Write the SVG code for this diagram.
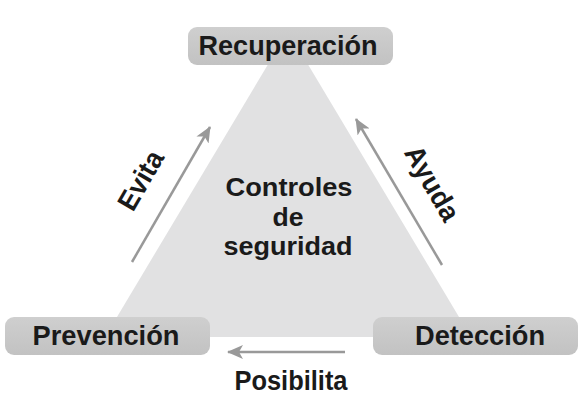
<svg xmlns="http://www.w3.org/2000/svg" width="578" height="420" viewBox="0 0 578 420">
<defs>
<linearGradient id="boxg" x1="0" y1="0" x2="0" y2="1">
<stop offset="0" stop-color="#cfcfcf"/>
<stop offset="1" stop-color="#c2c2c2"/>
</linearGradient>
<marker id="ah" viewBox="0 0 16 14" refX="15" refY="7" markerWidth="16" markerHeight="14" markerUnits="userSpaceOnUse" orient="auto">
<path d="M0,0 L16,7 L0,14 L4,7 Z" fill="#999999"/>
</marker>
<style>
.box{fill:url(#boxg);}
.lbl{font-family:"Liberation Sans",Arial,sans-serif;font-weight:bold;font-size:28px;fill:#1a1a1a;text-anchor:middle;}
.mid{font-size:26px;}
.con{stroke:#999999;stroke-width:2.5;fill:none;marker-end:url(#ah);}
</style>
</defs>
<rect width="578" height="420" fill="#ffffff"/>
<g id="triangle">
<polygon points="288,31 105,337 471,337" fill="#e1e1e2"/>
<text class="lbl mid" x="289" y="196" textLength="127" lengthAdjust="spacingAndGlyphs">Controles</text>
<text class="lbl mid" x="288" y="226" textLength="31" lengthAdjust="spacingAndGlyphs">de</text>
<text class="lbl mid" x="288" y="255" textLength="129" lengthAdjust="spacingAndGlyphs">seguridad</text>
</g>
<g id="connectors">
<line class="con" x1="132" y1="262" x2="210" y2="127"/>
<line class="con" x1="442" y1="265" x2="356" y2="119"/>
<line class="con" x1="345" y1="352" x2="228" y2="352"/>
<text class="lbl" transform="translate(149,185) rotate(-60)" textLength="64" lengthAdjust="spacingAndGlyphs">Evita</text>
<text class="lbl" transform="translate(424,188) rotate(60)" textLength="82" lengthAdjust="spacingAndGlyphs">Ayuda</text>
<text class="lbl" x="291" y="390" textLength="113" lengthAdjust="spacingAndGlyphs">Posibilita</text>
</g>
<g id="recuperacion">
<rect class="box" x="188" y="27" width="205" height="38" rx="9"/>
<text class="lbl" x="288" y="55" textLength="179" lengthAdjust="spacingAndGlyphs">Recuperación</text>
</g>
<g id="prevencion">
<rect class="box" x="5" y="317" width="205" height="38" rx="9"/>
<text class="lbl" x="106" y="345" textLength="147" lengthAdjust="spacingAndGlyphs">Prevención</text>
</g>
<g id="deteccion">
<rect class="box" x="373" y="317" width="205" height="38" rx="9"/>
<text class="lbl" x="480" y="345" textLength="130" lengthAdjust="spacingAndGlyphs">Detección</text>
</g>
</svg>
